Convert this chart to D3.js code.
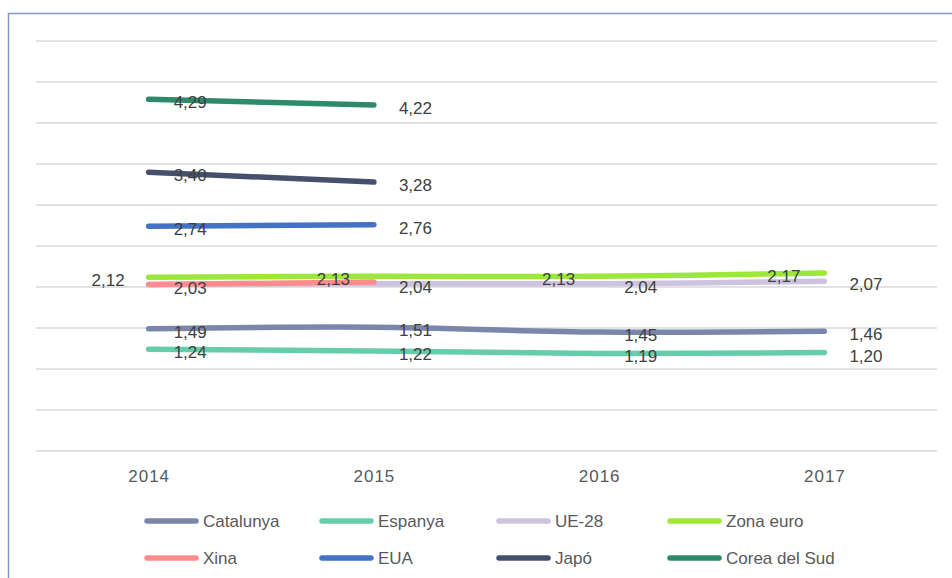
<!DOCTYPE html>
<html>
<head>
<meta charset="utf-8">
<script src="https://cdn.jsdelivr.net/npm/d3@7"></script>
<style>
  body { margin: 0; background: #fff; }
  svg { display: block; font-family: "Liberation Sans", Arial, sans-serif; }
</style>
</head>
<body>
<script>
const years = ["2014", "2015", "2016", "2017"];
const catalunya = [1.49, 1.51, 1.45, 1.46];
const espanya = [1.24, 1.22, 1.19, 1.20];
const ue28 = [2.03, 2.04, 2.04, 2.07];
const zonaEuro = [2.12, 2.13, 2.13, 2.17];
const xina = [2.03, 2.06, null, null];
const eua = [2.74, 2.76, null, null];
const japo = [3.40, 3.28, null, null];
const corea = [4.29, 4.22, null, null];
const yTicks = [0, 0.5, 1, 1.5, 2, 2.5, 3, 3.5, 4, 4.5, 5];

const series = [
  {name: "Catalunya", values: catalunya, color: "#7a87ab", label: "right"},
  {name: "Espanya", values: espanya, color: "#66cdaa", label: "right"},
  {name: "UE-28", values: ue28, color: "#cdc3e0", label: "right"},
  {name: "Zona euro", values: zonaEuro, color: "#9be83a", label: "left"},
  {name: "Xina", values: xina, color: "#ff8c8c", label: "none"},
  {name: "EUA", values: eua, color: "#4472c4", label: "right"},
  {name: "Japó", values: japo, color: "#44506c", label: "right"},
  {name: "Corea del Sud", values: corea, color: "#2e8b69", label: "right"}
];

const w = 952, h = 578;
const svg = d3.select("body").append("svg")
  .attr("width", w)
  .attr("height", h);

// frame
svg.append("rect")
  .attr("x", 8.5).attr("y", 13.5)
  .attr("width", 1000).attr("height", 700)
  .attr("fill", "none")
  .attr("stroke", "#8597c6")
  .attr("stroke-width", 1.5);

const x = d3.scalePoint().domain(years).range([36, 937]).padding(0.5);
const y = d3.scaleLinear().domain([0, 5]).range([451, 41]);

// gridlines
svg.append("g")
  .selectAll("line")
  .data(yTicks)
  .enter()
  .append("line")
  .attr("x1", 36).attr("x2", 937)
  .attr("y1", d => y(d)).attr("y2", d => y(d))
  .attr("stroke", "#d9d9d9")
  .attr("stroke-width", 1.5);

// x axis labels
const xAxis = d3.axisBottom(x).tickSize(0).tickPadding(0);
const gx = svg.append("g")
  .attr("transform", "translate(0, 470)")
  .call(xAxis);
gx.select(".domain").remove();
gx.selectAll("text")
  .attr("fill", "#595959")
  .style("font-size", "17px")
  .style("letter-spacing", "1px")
  .style("font-family", "Liberation Sans, Arial, sans-serif");

const line = d3.line()
  .defined(d => d != null)
  .x((d, i) => x(years[i]))
  .y(d => y(d))
  .curve(d3.curveCatmullRom.alpha(0));

svg.append("g")
  .selectAll("path")
  .data(series)
  .enter()
  .append("path")
  .attr("d", d => line(d.values))
  .attr("fill", "none")
  .attr("stroke", d => d.color)
  .attr("stroke-width", 5.5)
  .attr("stroke-linecap", "round")
  .attr("stroke-linejoin", "round");

// data labels
const labels = [];
series.forEach(s => {
  if (s.label === "none") return;
  s.values.forEach((v, i) => {
    if (v == null) return;
    labels.push({v: v, year: years[i], side: s.label});
  });
});

svg.append("g")
  .selectAll("text")
  .data(labels)
  .enter()
  .append("text")
  .attr("x", d => d.side === "left" ? x(d.year) - 24 : x(d.year) + 25)
  .attr("y", d => y(d.v) + 9)
  .attr("text-anchor", d => d.side === "left" ? "end" : "start")
  .attr("fill", "#404040")
  .style("font-size", "17px")
  .text(d => d3.format(".2f")(d.v).replace(".", ","));

// legend
const legendCols = [145, 320, 497, 668];
const legendRows = [521, 558];
const legend = svg.append("g")
  .selectAll("g")
  .data(series)
  .enter()
  .append("g")
  .attr("transform", (d, i) => "translate(" + legendCols[i % 4] + "," + legendRows[Math.floor(i / 4)] + ")");
legend.append("line")
  .attr("x1", 2).attr("x2", 51)
  .attr("y1", 0).attr("y2", 0)
  .attr("stroke", d => d.color)
  .attr("stroke-width", 5.5)
  .attr("stroke-linecap", "round");
legend.append("text")
  .attr("x", 58)
  .attr("y", 6)
  .attr("fill", "#595959")
  .style("font-size", "17px")
  .text(d => d.name);
</script>
</body>
</html>
